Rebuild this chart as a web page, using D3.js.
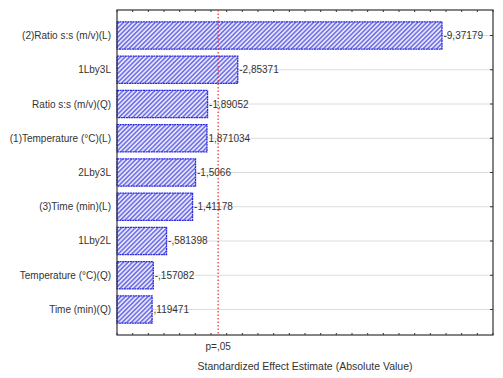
<!DOCTYPE html>
<html>
<head>
<meta charset="utf-8">
<script src="https://cdn.jsdelivr.net/npm/d3@7"></script>
<style>
  body { margin: 0; background: #fff; }
  text { font-family: Arial, "Liberation Sans", sans-serif; }
</style>
</head>
<body>
<div id="container"></div>
<script>
/* DATA */
const factors = [
  "(2)Ratio s:s (m/v)(L)",
  "1Lby3L",
  "Ratio s:s (m/v)(Q)",
  "(1)Temperature (°C)(L)",
  "2Lby3L",
  "(3)Time (min)(L)",
  "1Lby2L",
  "Temperature (°C)(Q)",
  "Time (min)(Q)"
]
const effects = [9.37179, 2.85371, 1.89052, 1.871034, 1.5066, 1.41178, 0.581398, 0.157082, 0.119471]
const effectLabels = ["-9,37179", "-2,85371", "-1,89052", "1,871034", "-1,5066", "-1,41178", "-,581398", "-,157082", ",119471"]
const pLimit = 2.228
const pLabel = "p=,05"
const xTitle = "Standardized Effect Estimate (Absolute Value)"

/* CONSTANTS */
const width = 503,
  height = 378,
  margin = { top: 10, bottom: 43, left: 117, right: 10 }

const svg = d3.select('#container')
  .append('svg')
  .attr('width', width)
  .attr('height', height)

// hatch pattern for the bars
const pat = svg.append('defs').append('pattern')
  .attr('id', 'hatch')
  .attr('patternUnits', 'userSpaceOnUse')
  .attr('width', 3.2)
  .attr('height', 3.2)
  .attr('patternTransform', 'rotate(45)')
pat.append('rect')
  .attr('width', 3.2).attr('height', 3.2)
  .attr('fill', '#e6e6fb')
pat.append('line')
  .attr('x1', 0.8).attr('y1', 0).attr('x2', 0.8).attr('y2', 3.2)
  .attr('stroke', '#5a5ae4')
  .attr('stroke-width', 1.3)

/* SCALES */
const xScale = d3.scaleLinear()
  .domain([-1, 11])
  .range([margin.left, width - margin.right])

const yScale = d3.scaleBand()
  .domain(factors)
  .range([margin.top, height - margin.bottom])
  .paddingInner(0.2)
  .paddingOuter(0.345)

const x0 = margin.left, x1 = width - margin.right
const y0 = margin.top, y1 = height - margin.bottom
const rowMid = d => yScale(d) + yScale.bandwidth() / 2

// gridlines at each row
svg.append('g')
  .selectAll('line')
  .data(factors)
  .join('line')
  .attr('x1', x0)
  .attr('x2', x1)
  .attr('y1', rowMid)
  .attr('y2', rowMid)
  .attr('stroke', '#dcdcdc')

// bars
svg.append('g')
  .selectAll('rect')
  .data(effects)
  .join('rect')
  .attr('x', x0)
  .attr('y', (d, i) => yScale(factors[i]))
  .attr('width', d => xScale(d) - x0)
  .attr('height', yScale.bandwidth())
  .attr('fill', 'url(#hatch)')
  .attr('stroke', '#2a2ae0')
  .attr('stroke-width', 1.3)
  .attr('stroke-dasharray', '2,0.6')

// value labels
svg.append('g')
  .selectAll('text')
  .data(effects)
  .join('text')
  .attr('x', d => xScale(d) + 1.5)
  .attr('y', (d, i) => rowMid(factors[i]))
  .attr('dy', '0.35em')
  .attr('font-size', 10)
  .attr('fill', '#333')
  .text((d, i) => effectLabels[i])

// category labels
svg.append('g')
  .selectAll('text')
  .data(factors)
  .join('text')
  .attr('x', x0 - 6)
  .attr('y', rowMid)
  .attr('dy', '0.35em')
  .attr('text-anchor', 'end')
  .attr('font-size', 10)
  .attr('fill', '#333')
  .text(d => d)

// frame
svg.append('rect')
  .attr('x', x0).attr('y', y0)
  .attr('width', x1 - x0).attr('height', y1 - y0)
  .attr('fill', 'none')
  .attr('stroke', '#333')
  .attr('stroke-width', 1.2)

// minor ticks top and bottom, pointing inward
const minorTicks = d3.range(-1, 11.01, 0.5)
svg.append('g')
  .selectAll('line')
  .data(minorTicks)
  .join('line')
  .attr('x1', d => xScale(d)).attr('x2', d => xScale(d))
  .attr('y1', y0).attr('y2', y0 + 2)
  .attr('stroke', '#333')
svg.append('g')
  .selectAll('line')
  .data(minorTicks)
  .join('line')
  .attr('x1', d => xScale(d)).attr('x2', d => xScale(d))
  .attr('y1', y1).attr('y2', y1 - 2)
  .attr('stroke', '#333')

// row ticks on the right
svg.append('g')
  .selectAll('line')
  .data(factors)
  .join('line')
  .attr('x1', x1).attr('x2', x1 - 3)
  .attr('y1', rowMid)
  .attr('y2', rowMid)
  .attr('stroke', '#333')

// p = .05 line
svg.append('line')
  .attr('x1', xScale(pLimit)).attr('x2', xScale(pLimit))
  .attr('y1', y0).attr('y2', y1)
  .attr('stroke', '#e03030')
  .attr('stroke-width', 1.2)
  .attr('stroke-dasharray', '1.5,2')

svg.append('text')
  .attr('x', xScale(pLimit))
  .attr('y', y1 + 15)
  .attr('text-anchor', 'middle')
  .attr('font-size', 10)
  .attr('fill', '#333')
  .text(pLabel)

svg.append('text')
  .attr('x', (x0 + x1) / 2)
  .attr('y', y1 + 35)
  .attr('text-anchor', 'middle')
  .attr('font-size', 10.5)
  .attr('fill', '#333')
  .text(xTitle)
</script>
</body>
</html>
